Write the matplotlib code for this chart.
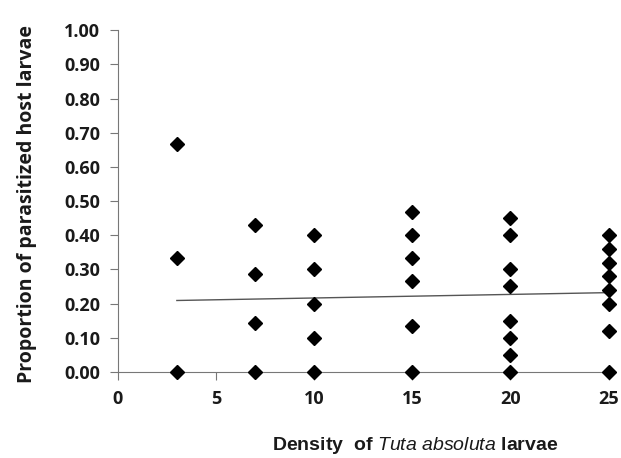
"""Proportion of parasitized host larvae vs. density of Tuta absoluta larvae."""

import matplotlib

matplotlib.use("Agg")
import matplotlib.pyplot as plt
import numpy as np

plt.rcParams["font.family"] = ["Open Sans", "DejaVu Sans"]
plt.rcParams["mathtext.fontset"] = "custom"
plt.rcParams["mathtext.it"] = "Liberation Sans:italic"
plt.rcParams["mathtext.rm"] = "Liberation Sans"

density = [3, 3, 3,
           7, 7, 7, 7,
           10, 10, 10, 10, 10,
           15, 15, 15, 15, 15, 15,
           20, 20, 20, 20, 20, 20, 20, 20,
           25, 25, 25, 25, 25, 25, 25, 25]
proportion = [0.667, 0.333, 0.0,
              0.429, 0.286, 0.143, 0.0,
              0.40, 0.30, 0.20, 0.10, 0.0,
              0.467, 0.40, 0.333, 0.267, 0.133, 0.0,
              0.45, 0.40, 0.30, 0.25, 0.15, 0.10, 0.05, 0.0,
              0.40, 0.36, 0.32, 0.28, 0.24, 0.20, 0.12, 0.0]
trend_x = [3, 25]
trend_y = [0.209, 0.232]

x_ticks = [0, 5, 10, 15, 20, 25]
y_ticks = np.round(np.arange(0, 1.01, 0.1), 2)

fig = plt.figure(figsize=(6.21, 4.58), dpi=100)
ax = fig.add_axes([0.19, 0.188, 0.79, 0.746])

ax.plot(density, proportion, linestyle="none", marker="D", markersize=7,
        color="black", clip_on=False, zorder=3)
ax.plot(trend_x, trend_y, color="#555555", linewidth=1.0)

ax.set_xlim(0, 25)
ax.set_ylim(0, 1.0)
ax.set_xticks(x_ticks)
ax.set_yticks(y_ticks)
ax.set_yticklabels([f"{v:.2f}" for v in y_ticks])
for spine in ["top", "right"]:
    ax.spines[spine].set_visible(False)
for spine in ["left", "bottom"]:
    ax.spines[spine].set_color("#777777")
ax.tick_params(axis="both", direction="out", length=6, color="#777777",
               labelsize=13, pad=7)
for label in ax.get_xticklabels() + ax.get_yticklabels():
    label.set_fontweight("bold")
    label.set_color("#1a1a1a")

ax.set_ylabel("Proportion of parasitized host larvae", fontsize=14,
              fontweight="bold", color="#1a1a1a")
ax.yaxis.set_label_coords(-0.165, 0.49)
ax.set_xlabel(r"Density  of $\mathit{Tuta\ absoluta}$ larvae", fontsize=14,
              fontweight="bold", family="Liberation Sans", color="#1a1a1a")
ax.xaxis.set_label_coords(0.606, -0.185)

fig.savefig("out.png", dpi=100)
